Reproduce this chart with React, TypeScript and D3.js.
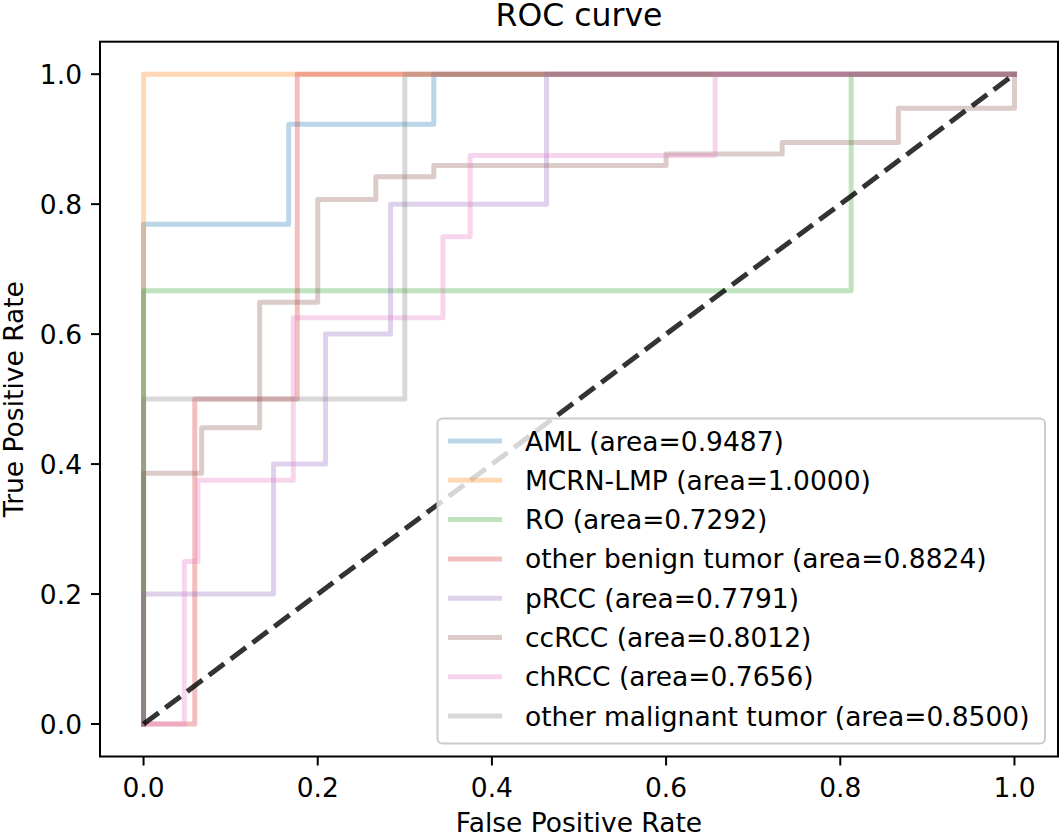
import React from "react";
import * as d3 from "d3";

const W = 1062;
const H = 836;

const seriesNames = [
  "AML (area=0.9487)",
  "MCRN-LMP (area=1.0000)",
  "RO (area=0.7292)",
  "other benign tumor (area=0.8824)",
  "pRCC (area=0.7791)",
  "ccRCC (area=0.8012)",
  "chRCC (area=0.7656)",
  "other malignant tumor (area=0.8500)",
];

const seriesColors = ["#1f77b4", "#ff7f0e", "#2ca02c", "#d62728", "#9467bd", "#8c564b", "#e377c2", "#7f7f7f"];

const amlFpr = [0, 0, 0.1667, 0.1667, 0.3333, 0.3333, 1];
const amlTpr = [0, 0.7692, 0.7692, 0.9231, 0.9231, 1, 1];

const mcrnFpr = [0, 0, 1];
const mcrnTpr = [0, 1, 1];

const roFpr = [0, 0, 0.8125, 0.8125, 1];
const roTpr = [0, 0.6667, 0.6667, 1, 1];

const benignFpr = [0, 0.0588, 0.0588, 0.1765, 0.1765, 1];
const benignTpr = [0, 0, 0.5, 0.5, 1, 1];

const prccFpr = [0, 0, 0.1493, 0.1493, 0.209, 0.209, 0.2836, 0.2836, 0.4627, 0.4627, 1];
const prccTpr = [0, 0.2, 0.2, 0.4, 0.4, 0.6, 0.6, 0.8, 0.8, 1, 1];

const ccrccFpr = [0, 0, 0.0667, 0.0667, 0.1333, 0.1333, 0.2, 0.2, 0.2667, 0.2667, 0.3333, 0.3333, 0.6, 0.6, 0.7333, 0.7333, 0.8667, 0.8667, 1, 1];
const ccrccTpr = [0, 0.386, 0.386, 0.4561, 0.4561, 0.6491, 0.6491, 0.807, 0.807, 0.8421, 0.8421, 0.8596, 0.8596, 0.8772, 0.8772, 0.8947, 0.8947, 0.9474, 0.9474, 1];

const chrccFpr = [0, 0.0469, 0.0469, 0.0625, 0.0625, 0.1719, 0.1719, 0.3438, 0.3438, 0.375, 0.375, 0.6563, 0.6563, 1];
const chrccTpr = [0, 0, 0.25, 0.25, 0.375, 0.375, 0.625, 0.625, 0.75, 0.75, 0.875, 0.875, 1, 1];

const malignantFpr = [0, 0, 0.3, 0.3, 1];
const malignantTpr = [0, 0.5, 0.5, 1, 1];

const fprList = [amlFpr, mcrnFpr, roFpr, benignFpr, prccFpr, ccrccFpr, chrccFpr, malignantFpr];
const tprList = [amlTpr, mcrnTpr, roTpr, benignTpr, prccTpr, ccrccTpr, chrccTpr, malignantTpr];

const tickValues = [0, 0.2, 0.4, 0.6, 0.8, 1.0];
const diagonal = [0, 1];

const FONT = "DejaVu Sans, Verdana, sans-serif";
const FS = 26.5;

export default function App() {
  const left = 100, right = 1058, top = 41.7, bottom = 756.5;
  const x = d3.scaleLinear().domain([-0.05, 1.05]).range([left, right]);
  const y = d3.scaleLinear().domain([-0.05, 1.05]).range([bottom, top]);
  const line = d3.line<[number, number]>().x((d) => x(d[0])).y((d) => y(d[1]));

  const paths = fprList.map((f, i) => line(f.map((v, j) => [v, tprList[i][j]] as [number, number])) || "");
  const diag = line(diagonal.map((v) => [v, v] as [number, number])) || "";

  const legX = 437.5, legY = 418.5, legW = 607.5, legH = 325;
  const rowY0 = 441, rowStep = 39.3;

  return (
    <svg width={W} height={H} style={{ position: "absolute", left: 0, top: 0, background: "#fff" }} fontFamily={FONT}>
      <rect x={0} y={0} width={W} height={H} fill="#fff" />
      <defs>
        <clipPath id="plotclip">
          <rect x={left} y={top} width={right - left} height={bottom - top} />
        </clipPath>
      </defs>
      <g clipPath="url(#plotclip)">
        {paths.map((p, i) => (
          <path key={i} d={p} fill="none" stroke={seriesColors[i]} strokeOpacity={0.3} strokeWidth={5}
            strokeLinejoin="round" strokeLinecap="square" />
        ))}
        <path d={diag} fill="none" stroke="#000" strokeOpacity={0.8} strokeWidth={5} strokeDasharray="19,8.2" />
      </g>
      <rect x={left} y={top} width={right - left} height={bottom - top} fill="none" stroke="#000" strokeWidth={2} />
      {tickValues.map((t, i) => (
        <g key={"x" + i}>
          <line x1={x(t)} x2={x(t)} y1={bottom} y2={bottom + 9} stroke="#000" strokeWidth={2} />
          <text x={x(t)} y={797} textAnchor="middle" fontSize={FS} fill="#000">{t.toFixed(1)}</text>
        </g>
      ))}
      {tickValues.map((t, i) => (
        <g key={"y" + i}>
          <line x1={left - 9} x2={left} y1={y(t)} y2={y(t)} stroke="#000" strokeWidth={2} />
          <text x={82} y={y(t) + 9.5} textAnchor="end" fontSize={FS} fill="#000">{t.toFixed(1)}</text>
        </g>
      ))}
      <text x={(left + right) / 2} y={831.5} textAnchor="middle" fontSize={FS} fill="#000">False Positive Rate</text>
      <text transform={`translate(22.5, ${(top + bottom) / 2}) rotate(-90)`} textAnchor="middle" fontSize={FS} fill="#000">True Positive Rate</text>
      <text x={(left + right) / 2} y={26} textAnchor="middle" fontSize={31.5} fill="#000">ROC curve</text>
      <rect x={legX} y={legY} width={legW} height={legH} rx={5} ry={5} fill="#fff" fillOpacity={0.8} stroke="#cccccc" strokeWidth={2} />
      {seriesNames.map((n, i) => {
        const ry = rowY0 + i * rowStep;
        return (
          <g key={"l" + i}>
            <line x1={448} x2={502} y1={ry} y2={ry} stroke={seriesColors[i]} strokeOpacity={0.3} strokeWidth={5} />
            <text x={525} y={ry + 9.5} fontSize={FS} fill="#000">{n}</text>
          </g>
        );
      })}
    </svg>
  );
}
